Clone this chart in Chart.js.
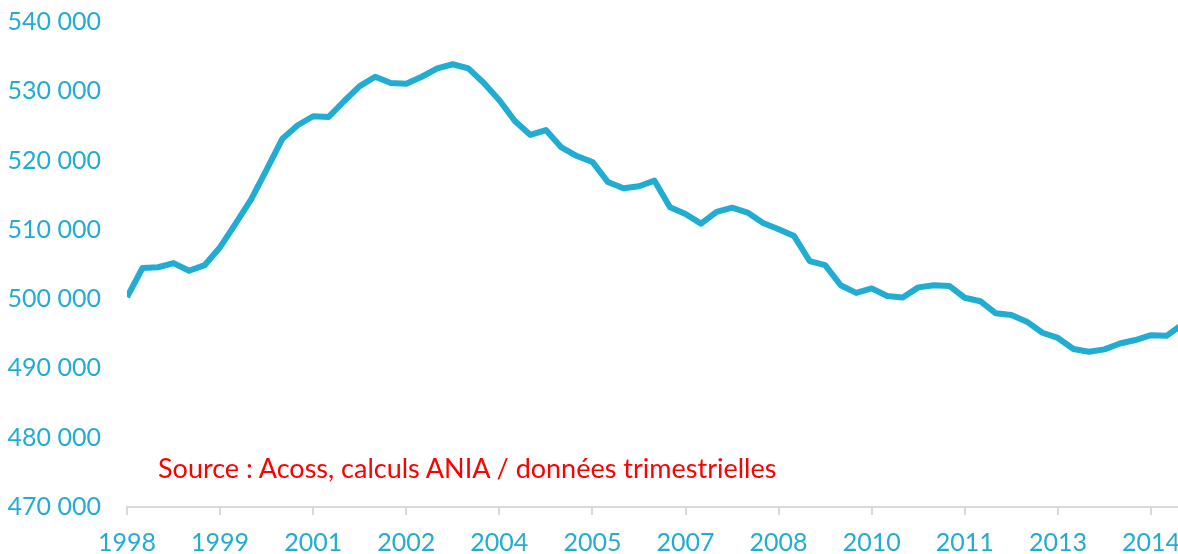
<!DOCTYPE html>
<html>
<head>
<meta charset="utf-8">
<script src="https://cdn.jsdelivr.net/npm/chart.js@4.4.1/dist/chart.umd.min.js"></script>
<style>
  html, body { margin: 0; padding: 0; background: #fff; overflow: hidden; }
  #wrap { position: relative; width: 1182px; height: 554px; }
  #source {
    position: absolute; left: 158px; top: 450px;
    font-family: Lato, "Open Sans", sans-serif; font-size: 27px;
    color: #ff0000; white-space: nowrap; line-height: 36px;
  }
</style>
</head>
<body>
<div id="wrap">
  <canvas id="chart" width="1182" height="554"></canvas>
  <div id="source">Source : Acoss, calculs ANIA / données trimestrielles</div>
</div>
<script>
// Quarterly values, 1998 T1 onwards
const values = [
    500300, 504500, 504600, 505200, 504100, 504900, 507500, 510900,
    514400, 518700, 523100, 525100, 526400, 526300, 528600, 530750,
    532100, 531200, 531100, 532100, 533300, 533900, 533300, 531200,
    528700, 525700, 523700, 524400, 521900, 520650, 519800, 516900,
    516000, 516300, 517100, 513250, 512300, 510900, 512600, 513200,
    512500, 511000, 510100, 509100, 505500, 504900, 502000, 500900,
    501550, 500450, 500250, 501700, 502000, 501900, 500200, 499700,
    497950, 497700, 496750, 495150, 494400, 492800, 492400, 492750,
    493600, 494100, 494800, 494700, 496300
];

// one label every 6 quarters
const yearLabels = ['1998', '1999', '2001', '2002', '2004', '2005',
    '2007', '2008', '2010', '2011', '2013', '2014'];

const yMin = 470000;
const yMax = 540000;
const yStep = 10000;

const blue = '#21acd3';

const points = values.map((v, i) => ({ x: i, y: v }));

function spaced(n) {
    return String(n).replace(/\B(?=(\d{3})+(?!\d))/g, ' ');
}

const ctx = document.getElementById('chart').getContext('2d');
new Chart(ctx, {
    type: 'line',
    data: {
        datasets: [{
            data: points,
            borderColor: blue,
            borderWidth: 6,
            borderJoinStyle: 'round',
            pointRadius: 0,
            tension: 0,
            fill: false
        }]
    },
    options: {
        responsive: false,
        animation: false,
        layout: { padding: { top: 22, right: 0, bottom: 0, left: 0 } },
        plugins: { legend: { display: false }, tooltip: { enabled: false } },
        scales: {
            x: {
                type: 'linear',
                min: 0,
                max: values.length - 1,
                border: { display: true, color: '#d9d9d9', width: 2 },
                grid: {
                    drawOnChartArea: false,
                    drawTicks: true,
                    tickLength: 8,
                    color: '#d9d9d9',
                    lineWidth: 2
                },
                ticks: {
                    autoSkip: false,
                    maxRotation: 0,
                    padding: 13,
                    color: blue,
                    font: { family: 'Lato', size: 25 },
                    callback: (v) => yearLabels[v / 6] || ''
                },
                afterBuildTicks: (scale) => {
                    scale.ticks = yearLabels.map((_, k) => ({ value: k * 6 }));
                },
                afterFit: (scale) => {
                    scale.height = 47;
                    scale.paddingLeft = 0;
                    scale.paddingRight = 0;
                }
            },
            y: {
                min: yMin,
                max: yMax,
                border: { display: false },
                grid: { display: false },
                ticks: {
                    stepSize: yStep,
                    padding: 18,
                    color: blue,
                    font: { family: 'Lato', size: 25 },
                    callback: (v) => spaced(v)
                },
                afterFit: (scale) => {
                    scale.width = 127;
                    scale.paddingTop = 0;
                    scale.paddingBottom = 0;
                }
            }
        }
    }
});
</script>
</body>
</html>
